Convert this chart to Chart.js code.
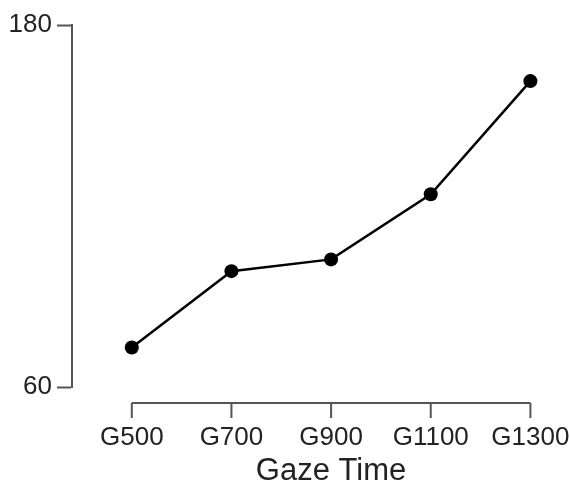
<!DOCTYPE html>
<html>
<head>
<meta charset="utf-8">
<title>Gaze Time</title>
<script src="https://cdn.jsdelivr.net/npm/chart.js@4"></script>
<style>
    html, body { margin: 0; padding: 0; background: #fff; }
    #wrap { width: 570px; height: 483px; }
</style>
</head>
<body>
<div id="wrap"><canvas id="chart" width="570" height="483"></canvas></div>
<script>
// Chart data
const categories = ['G500', 'G700', 'G900', 'G1100', 'G1300'];
const values = [73.1, 98.4, 102.3, 123.9, 161.4];
const yTicks = [60, 180];
const xTitle = 'Gaze Time';

const axisColor = '#555';
const textColor = '#222';
const fontFamily = '"Liberation Sans", Arial, Helvetica, sans-serif';

/**
 * Draw the bottom axis line, its tick marks and the axis title,
 * detached from the plot (only spans first to last category)
 */
const detachedXAxis = {
    id: 'detachedXAxis',
    afterDraw(chart) {
        const { ctx, chartArea } = chart;
        const xScale = chart.scales.x;
        const lineY = chartArea.bottom + 16;
        const tickEnd = chartArea.bottom + 31;
        const first = xScale.getPixelForValue(0);
        const last = xScale.getPixelForValue(categories.length - 1);

        ctx.save();
        ctx.strokeStyle = axisColor;
        ctx.lineWidth = 2;
        ctx.beginPath();
        ctx.moveTo(first, lineY);
        ctx.lineTo(last, lineY);
        categories.forEach((c, i) => {
            const px = xScale.getPixelForValue(i);
            ctx.moveTo(px, lineY);
            ctx.lineTo(px, tickEnd);
        });
        ctx.stroke();

        // Axis title centred under the axis line
        ctx.fillStyle = textColor;
        ctx.font = '31px ' + fontFamily;
        ctx.textAlign = 'center';
        ctx.textBaseline = 'alphabetic';
        ctx.fillText(xTitle, (first + last) / 2, 480);
        ctx.restore();
    }
};

new Chart(document.getElementById('chart'), {
    type: 'line',
    data: {
        datasets: [{
            data: values.map((v, i) => ({ x: i, y: v })),
            borderColor: '#000',
            backgroundColor: '#000',
            borderWidth: 2.5,
            pointRadius: 7,
            pointHoverRadius: 7,
            pointBackgroundColor: '#000',
            pointBorderWidth: 0,
            tension: 0,
            clip: false
        }]
    },
    options: {
        responsive: false,
        animation: false,
        layout: {
            padding: { top: 25, right: 10, bottom: 0, left: 0 }
        },
        plugins: {
            legend: { display: false },
            tooltip: { enabled: false }
        },
        scales: {
            x: {
                type: 'linear',
                min: -0.6,
                max: 4.28,
                afterBuildTicks: (scale) => {
                    scale.ticks = categories.map((c, i) => ({ value: i }));
                },
                afterFit: (scale) => {
                    scale.height = 96;
                },
                grid: {
                    display: true,
                    drawOnChartArea: false,
                    drawTicks: true,
                    tickLength: 35,
                    tickColor: 'transparent'
                },
                border: { display: false },
                ticks: {
                    padding: 0,
                    maxRotation: 0,
                    autoSkip: false,
                    color: textColor,
                    font: { family: fontFamily, size: 26 },
                    callback: (v) => categories[v]
                }
            },
            y: {
                min: 60,
                max: 180,
                afterBuildTicks: (scale) => {
                    scale.ticks = yTicks.map(v => ({ value: v }));
                },
                afterFit: (scale) => {
                    scale.width = 72;
                },
                grid: {
                    display: true,
                    drawOnChartArea: false,
                    drawTicks: true,
                    tickLength: 15,
                    tickColor: axisColor,
                    tickWidth: 2
                },
                border: { display: true, color: axisColor, width: 2 },
                ticks: {
                    padding: 5,
                    color: textColor,
                    font: { family: fontFamily, size: 26 }
                }
            }
        }
    },
    plugins: [detachedXAxis]
});
</script>
</body>
</html>
